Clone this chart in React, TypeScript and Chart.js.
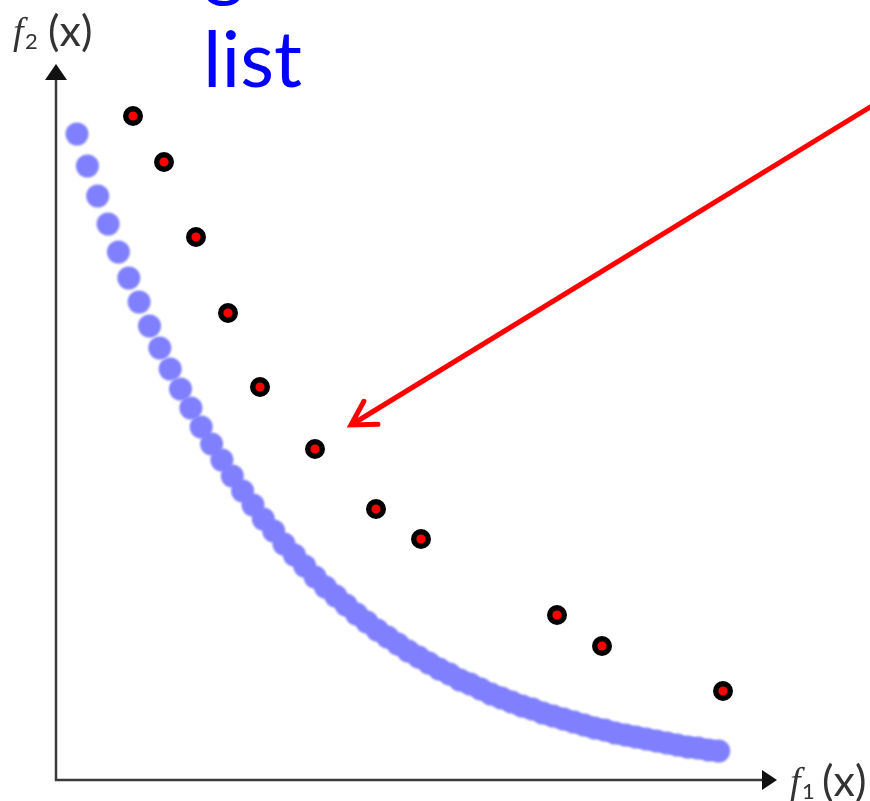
import React, { useEffect, useRef } from "react";
import { Chart, registerables } from "chart.js";

Chart.register(...registerables);

// Pareto front (dense blue band), objective values f1 / f2
const frontF1 = [
  0.21, 0.314, 0.417, 0.521, 0.624, 0.728, 0.831, 0.935, 1.038, 1.142,
  1.245, 1.349, 1.452, 1.556, 1.659, 1.763, 1.866, 1.97, 2.073, 2.177,
  2.28, 2.384, 2.487, 2.591, 2.694, 2.798, 2.901, 3.005, 3.108, 3.212,
  3.315, 3.419, 3.522, 3.626, 3.729, 3.833, 3.936, 4.04, 4.143, 4.247,
  4.35, 4.454, 4.557, 4.661, 4.764, 4.868, 4.971, 5.075, 5.178, 5.282,
  5.385, 5.489, 5.592, 5.696, 5.799, 5.903, 6.006, 6.11, 6.213, 6.317,
  6.42, 6.524, 6.627,
];
const frontF2 = [
  6.46, 6.14, 5.84, 5.56, 5.28, 5.02, 4.78, 4.54, 4.32, 4.11,
  3.91, 3.72, 3.53, 3.36, 3.2, 3.04, 2.89, 2.75, 2.61, 2.49,
  2.36, 2.25, 2.14, 2.03, 1.93, 1.84, 1.75, 1.66, 1.58, 1.5,
  1.43, 1.36, 1.29, 1.23, 1.17, 1.11, 1.06, 1.0, 0.96, 0.91,
  0.86, 0.82, 0.78, 0.74, 0.71, 0.67, 0.64, 0.61, 0.58, 0.55,
  0.52, 0.5, 0.47, 0.45, 0.43, 0.41, 0.39, 0.37, 0.35, 0.33,
  0.32, 0.3, 0.29,
];

// Stored solutions (red points with black ring)
const listF1 = [0.77, 1.08, 1.4, 1.72, 2.04, 2.59, 3.2, 3.65, 5.01, 5.46, 6.67];
const listF2 = [6.64, 6.18, 5.43, 4.67, 3.93, 3.31, 2.71, 2.41, 1.65, 1.34, 0.89];

// Axis ranges
const axisMaxF1 = 7;
const axisMaxF2 = 7;

// Callout arrow: from outside the plot to the tip near the stored points
const arrowTail = { x: 8.24, y: 6.79 };
const arrowTip = { x: 2.95, y: 3.55 };

// Texts
const titleLines = ["g", "list"];
const axisNameX = { base: "f", sub: "1", rest: "(x)" };
const axisNameY = { base: "f", sub: "2", rest: "(x)" };

const decorPlugin = {
  id: "decor",
  beforeDatasetsDraw(chart: any) {
    const { ctx, scales } = chart;
    const x0 = scales.x.getPixelForValue(0);
    const y0 = scales.y.getPixelForValue(0);
    const yTop = scales.y.getPixelForValue(axisMaxF2);
    const xEnd = scales.x.getPixelForValue(axisMaxF1) + 6;
    ctx.save();
    ctx.strokeStyle = "#3a3a3a";
    ctx.fillStyle = "#111111";
    ctx.lineWidth = 2.5;
    ctx.beginPath();
    ctx.moveTo(x0, yTop);
    ctx.lineTo(x0, y0);
    ctx.lineTo(xEnd, y0);
    ctx.stroke();
    // arrowheads
    ctx.beginPath();
    ctx.moveTo(x0 - 11, yTop);
    ctx.lineTo(x0, yTop - 16);
    ctx.lineTo(x0 + 11, yTop);
    ctx.closePath();
    ctx.fill();
    ctx.beginPath();
    ctx.moveTo(xEnd, y0 - 10);
    ctx.lineTo(xEnd + 15, y0);
    ctx.lineTo(xEnd, y0 + 10);
    ctx.closePath();
    ctx.fill();
    ctx.restore();
  },
  // soft edges on the front band
  beforeDatasetDraw(chart: any, args: any) {
    if (args.index === 1) {
      chart.ctx.save();
      chart.ctx.filter = "blur(0.8px)";
    }
  },
  afterDatasetDraw(chart: any, args: any) {
    if (args.index === 1) {
      chart.ctx.restore();
    }
  },
  afterDatasetsDraw(chart: any) {
    const { ctx, scales } = chart;
    ctx.save();

    // red callout arrow
    const tx = scales.x.getPixelForValue(arrowTip.x);
    const ty = scales.y.getPixelForValue(arrowTip.y);
    const sx = scales.x.getPixelForValue(arrowTail.x);
    const sy = scales.y.getPixelForValue(arrowTail.y);
    const ang = Math.atan2(sy - ty, sx - tx);
    const barb = 27;
    const spread = Math.PI / 6;
    ctx.strokeStyle = "#ff0000";
    ctx.lineWidth = 5;
    ctx.lineCap = "butt";
    ctx.beginPath();
    ctx.moveTo(sx, sy);
    ctx.lineTo(tx, ty);
    ctx.stroke();
    ctx.lineJoin = "miter";
    ctx.lineCap = "round";
    ctx.beginPath();
    ctx.moveTo(tx + barb * Math.cos(ang + spread), ty + barb * Math.sin(ang + spread));
    ctx.lineTo(tx, ty);
    ctx.lineTo(tx + barb * Math.cos(ang - spread), ty + barb * Math.sin(ang - spread));
    ctx.stroke();

    // blue title text (top line cut by the page edge)
    ctx.fillStyle = "#0000ff";
    ctx.font = '78px Lato, "Open Sans", sans-serif';
    ctx.textBaseline = "alphabetic";
    ctx.textAlign = "left";
    ctx.fillText(titleLines[0], 204, -9);
    ctx.fillText(titleLines[1], 203, 87);

    // axis names
    const drawName = (
      n: { base: string; sub: string; rest: string },
      x: number,
      b: number,
      gap: number
    ) => {
      ctx.fillStyle = "#333333";
      ctx.font = 'italic 38px "Liberation Serif", serif';
      ctx.fillText(n.base, x, b - 2);
      ctx.font = "22px Lato, sans-serif";
      ctx.fillText(n.sub, x + 12, b + 3);
      ctx.font = "43px Lato, sans-serif";
      ctx.fillText(n.rest, x + gap, b);
    };
    drawName(axisNameY, 13, 46, 35);
    drawName(axisNameX, 790, 796, 32);

    ctx.restore();
  },
};

export default function App() {
  const canvasRef = useRef<HTMLCanvasElement | null>(null);

  useEffect(() => {
    if (!canvasRef.current) return;
    const chart = new Chart(canvasRef.current, {
      type: "scatter",
      data: {
        datasets: [
          {
            label: "list",
            data: listF1.map((v, i) => ({ x: v, y: listF2[i] })),
            pointRadius: 7.3,
            pointBorderWidth: 5.4,
            pointBorderColor: "#000000",
            pointBackgroundColor: "#ff0000",
            clip: false,
          },
          {
            label: "front",
            data: frontF1.map((v, i) => ({ x: v, y: frontF2[i] })),
            pointRadius: 11.5,
            pointBorderWidth: 0,
            pointBackgroundColor: "#8080ff",
            pointBorderColor: "#8080ff",
            clip: false,
          },
        ],
      },
      options: {
        responsive: false,
        devicePixelRatio: 1,
        animation: false,
        layout: { padding: { left: 56, right: 114, top: 80, bottom: 21 } },
        scales: {
          x: { type: "linear", min: 0, max: axisMaxF1, display: false },
          y: { type: "linear", min: 0, max: axisMaxF2, display: false },
        },
        plugins: {
          legend: { display: false },
          tooltip: { enabled: false },
        },
        events: [],
      },
      plugins: [decorPlugin],
    });
    return () => chart.destroy();
  }, []);

  return (
    <div style={{ position: "absolute", left: 0, top: 0, width: 870, height: 801, background: "#ffffff" }}>
      <canvas ref={canvasRef} width={870} height={801} />
    </div>
  );
}
